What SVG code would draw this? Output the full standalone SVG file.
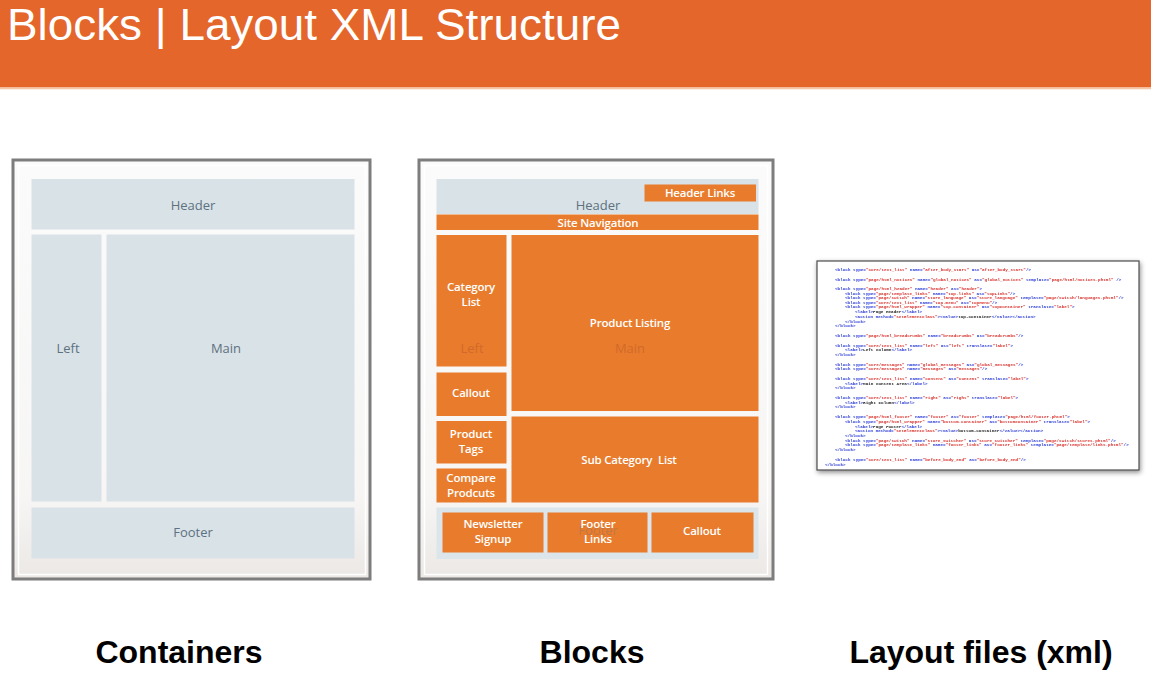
<svg xmlns="http://www.w3.org/2000/svg" width="1151" height="694" viewBox="0 0 1151 694">
<style>
.title{font-family:"Liberation Sans",Arial,sans-serif;font-size:45px;fill:#ffffff}
.cap{font-family:"Liberation Sans",Arial,sans-serif;font-size:32px;font-weight:bold;fill:#000;text-anchor:middle}
.frame{fill:url(#panelGrad);stroke:#7d7d7d;stroke-width:3}
.inner{fill:none;stroke:#ffffff;stroke-width:1.5}
.ct{fill:#d9e2e7}
.ctl{font-family:"Open Sans","Noto Sans",sans-serif;font-size:13px;fill:#5d7180;text-anchor:middle}
.ob{fill:#e87c2c}
.bl{font-family:"Open Sans","Noto Sans",sans-serif;font-size:11.5px;font-weight:600;fill:#ffffff;text-anchor:middle;letter-spacing:-0.2px}
.faint{font-family:"Open Sans","Noto Sans",sans-serif;font-size:13px;fill:#d2692a;text-anchor:middle}
.x{font-family:"Liberation Mono","Courier New",monospace;font-size:4.3px;font-weight:bold;fill:#2b3bd6}
.r{fill:#d8322e}
.k{fill:#222222}
</style>
<defs>
<linearGradient id="panelGrad" x1="0" y1="0" x2="0" y2="1">
<stop offset="0" stop-color="#fbfbfb"/>
<stop offset="0.8" stop-color="#f7f6f5"/>
<stop offset="1" stop-color="#ebe8e5"/>
</linearGradient>
<filter id="shadow" x="-5%" y="-5%" width="112%" height="115%">
<feGaussianBlur in="SourceAlpha" stdDeviation="2.5"/>
<feOffset dx="1" dy="2" result="b"/>
<feComponentTransfer><feFuncA type="linear" slope="0.45"/></feComponentTransfer>
<feMerge><feMergeNode/><feMergeNode in="SourceGraphic"/></feMerge>
</filter>
<filter id="soft"><feGaussianBlur stdDeviation="0.35"/></filter>
</defs>

<g id="title-bar">
<rect x="0" y="0" width="1151" height="87.5" fill="#e4662a"/>
<rect x="0" y="87.5" width="1151" height="1.8" fill="#f6c7a6"/>
<text class="title" x="7" y="40" textLength="614" lengthAdjust="spacingAndGlyphs">Blocks | Layout XML Structure</text>
</g>

<g id="containers-panel">
<rect class="frame" x="13" y="160" width="357" height="419"/>
<rect class="inner" x="18.5" y="165.5" width="347" height="409"/>
<g id="c-header"><rect class="ct" x="31.5" y="179" width="323" height="50.5"/><text class="ctl" x="193" y="209.5">Header</text></g>
<g id="c-left"><rect class="ct" x="31.5" y="234.5" width="70" height="267"/><text class="ctl" x="68" y="353">Left</text></g>
<g id="c-main"><rect class="ct" x="106.5" y="234.5" width="248" height="267"/><text class="ctl" x="226" y="353">Main</text></g>
<g id="c-footer"><rect class="ct" x="31.5" y="507.5" width="323" height="51"/><text class="ctl" x="193" y="537">Footer</text></g>
</g>

<g id="blocks-panel">
<rect class="frame" x="419" y="160" width="354" height="419"/>
<rect class="inner" x="424.5" y="165.5" width="343" height="409"/>
<g id="b-header"><rect class="ct" x="436.5" y="179" width="322" height="35"/><text class="ctl" x="598" y="209.5">Header</text></g>
<g id="b-header-links"><rect class="ob" x="644.5" y="184.5" width="111.5" height="17"/><text class="bl" x="700" y="197">Header Links</text></g>
<g id="b-site-nav"><rect class="ob" x="436.5" y="214.5" width="322" height="15.5"/><text class="bl" x="598" y="226.5">Site Navigation</text></g>
<g id="b-category-list"><rect class="ob" x="436.5" y="235" width="70" height="131.5"/><text class="bl" x="471" y="291">Category</text><text class="bl" x="471" y="305.5">List</text><text class="faint" x="472" y="353">Left</text></g>
<g id="b-product-listing"><rect class="ob" x="511.5" y="235" width="247" height="176"/><text class="bl" x="630" y="326.5">Product Listing</text><text class="faint" x="630" y="353">Main</text></g>
<g id="b-callout-left"><rect class="ob" x="436.5" y="372.5" width="70" height="43.5"/><text class="bl" x="471" y="397">Callout</text></g>
<g id="b-product-tags"><rect class="ob" x="436.5" y="421" width="70" height="42.5"/><text class="bl" x="471" y="437.5">Product</text><text class="bl" x="471" y="452.5">Tags</text></g>
<g id="b-compare"><rect class="ob" x="436.5" y="468.5" width="70" height="34"/><text class="bl" x="471" y="482">Compare</text><text class="bl" x="471" y="497">Prodcuts</text></g>
<g id="b-subcat"><rect class="ob" x="511.5" y="416.5" width="247" height="86"/><text class="bl" x="629" y="464" xml:space="preserve">Sub Category  List</text></g>
<g id="b-footer">
<rect x="436.5" y="507.5" width="322" height="51.5" fill="#dbe5ea"/>
</g>
<g id="b-newsletter"><rect class="ob" x="442.5" y="512.5" width="101" height="40"/><text class="bl" x="493" y="528">Newsletter</text><text class="bl" x="493" y="543">Signup</text></g>
<g id="b-footer-links"><rect class="ob" x="547.5" y="512.5" width="100" height="40"/><text class="ctl" x="598" y="535" fill-opacity="0.3">Footer</text><text class="bl" x="598" y="528">Footer</text><text class="bl" x="598" y="543">Links</text></g>
<g id="b-callout-footer"><rect class="ob" x="651.5" y="512.5" width="102" height="40"/><text class="bl" x="702" y="535">Callout</text></g>
</g>

<g id="xml-file">
<rect x="817" y="261" width="322" height="209" fill="#ffffff" stroke="#4d4d4d" stroke-width="1.2" filter="url(#shadow)"/>
<g filter="url(#soft)">
<text class="x" x="835" y="270.5">&lt;block type=<tspan class="r">"core/text_list"</tspan> name=<tspan class="r">"after_body_start"</tspan> as=<tspan class="r">"after_body_start"</tspan>/&gt;</text>
<text class="x" x="835" y="280.5">&lt;block type=<tspan class="r">"page/html_notices"</tspan> name=<tspan class="r">"global_notices"</tspan> as=<tspan class="r">"global_notices"</tspan> template=<tspan class="r">"page/html/notices.phtml"</tspan> /&gt;</text>
<text class="x" x="835" y="290">&lt;block type=<tspan class="r">"page/html_header"</tspan> name=<tspan class="r">"header"</tspan> as=<tspan class="r">"header"</tspan>&gt;</text>
<text class="x" x="845" y="294.5">&lt;block type=<tspan class="r">"page/template_links"</tspan> name=<tspan class="r">"top.links"</tspan> as=<tspan class="r">"topLinks"</tspan>/&gt;</text>
<text class="x" x="845" y="299">&lt;block type=<tspan class="r">"page/switch"</tspan> name=<tspan class="r">"store_language"</tspan> as=<tspan class="r">"store_language"</tspan> template=<tspan class="r">"page/switch/languages.phtml"</tspan>/&gt;</text>
<text class="x" x="845" y="303.5">&lt;block type=<tspan class="r">"core/text_list"</tspan> name=<tspan class="r">"top.menu"</tspan> as=<tspan class="r">"topMenu"</tspan>/&gt;</text>
<text class="x" x="845" y="308.2">&lt;block type=<tspan class="r">"page/html_wrapper"</tspan> name=<tspan class="r">"top.container"</tspan> as=<tspan class="r">"topContainer"</tspan> translate=<tspan class="r">"label"</tspan>&gt;</text>
<text class="x" x="855" y="313">&lt;label&gt;<tspan class="k">Page Header</tspan>&lt;/label&gt;</text>
<text class="x" x="855" y="317.7">&lt;action method=<tspan class="r">"setElementClass"</tspan>&gt;&lt;value&gt;<tspan class="k">top-container</tspan>&lt;/value&gt;&lt;/action&gt;</text>
<text class="x" x="845" y="322.5">&lt;/block&gt;</text>
<text class="x" x="835" y="327.2">&lt;/block&gt;</text>
<text class="x" x="835" y="337.2">&lt;block type=<tspan class="r">"page/html_breadcrumbs"</tspan> name=<tspan class="r">"breadcrumbs"</tspan> as=<tspan class="r">"breadcrumbs"</tspan>/&gt;</text>
<text class="x" x="835" y="346.5">&lt;block type=<tspan class="r">"core/text_list"</tspan> name=<tspan class="r">"left"</tspan> as=<tspan class="r">"left"</tspan> translate=<tspan class="r">"label"</tspan>&gt;</text>
<text class="x" x="845" y="351.2">&lt;label&gt;<tspan class="k">Left Column</tspan>&lt;/label&gt;</text>
<text class="x" x="835" y="355.8">&lt;/block&gt;</text>
<text class="x" x="835" y="365.5">&lt;block type=<tspan class="r">"core/messages"</tspan> name=<tspan class="r">"global_messages"</tspan> as=<tspan class="r">"global_messages"</tspan>/&gt;</text>
<text class="x" x="835" y="370.2">&lt;block type=<tspan class="r">"core/messages"</tspan> name=<tspan class="r">"messages"</tspan> as=<tspan class="r">"messages"</tspan>/&gt;</text>
<text class="x" x="835" y="379.8">&lt;block type=<tspan class="r">"core/text_list"</tspan> name=<tspan class="r">"content"</tspan> as=<tspan class="r">"content"</tspan> translate=<tspan class="r">"label"</tspan>&gt;</text>
<text class="x" x="845" y="384.5">&lt;label&gt;<tspan class="k">Main Content Area</tspan>&lt;/label&gt;</text>
<text class="x" x="835" y="389.2">&lt;/block&gt;</text>
<text class="x" x="835" y="398.8">&lt;block type=<tspan class="r">"core/text_list"</tspan> name=<tspan class="r">"right"</tspan> as=<tspan class="r">"right"</tspan> translate=<tspan class="r">"label"</tspan>&gt;</text>
<text class="x" x="845" y="403.5">&lt;label&gt;<tspan class="k">Right Column</tspan>&lt;/label&gt;</text>
<text class="x" x="835" y="408.2">&lt;/block&gt;</text>
<text class="x" x="835" y="417.8">&lt;block type=<tspan class="r">"page/html_footer"</tspan> name=<tspan class="r">"footer"</tspan> as=<tspan class="r">"footer"</tspan> template=<tspan class="r">"page/html/footer.phtml"</tspan>&gt;</text>
<text class="x" x="845" y="422.5">&lt;block type=<tspan class="r">"page/html_wrapper"</tspan> name=<tspan class="r">"bottom.container"</tspan> as=<tspan class="r">"bottomContainer"</tspan> translate=<tspan class="r">"label"</tspan>&gt;</text>
<text class="x" x="855" y="427.5">&lt;label&gt;<tspan class="k">Page Footer</tspan>&lt;/label&gt;</text>
<text class="x" x="855" y="432.2">&lt;action method=<tspan class="r">"setElementClass"</tspan>&gt;&lt;value&gt;<tspan class="k">bottom-container</tspan>&lt;/value&gt;&lt;/action&gt;</text>
<text class="x" x="845" y="436.8">&lt;/block&gt;</text>
<text class="x" x="845" y="441.5">&lt;block type=<tspan class="r">"page/switch"</tspan> name=<tspan class="r">"store_switcher"</tspan> as=<tspan class="r">"store_switcher"</tspan> template=<tspan class="r">"page/switch/stores.phtml"</tspan>/&gt;</text>
<text class="x" x="845" y="446.2">&lt;block type=<tspan class="r">"page/template_links"</tspan> name=<tspan class="r">"footer_links"</tspan> as=<tspan class="r">"footer_links"</tspan> template=<tspan class="r">"page/template/links.phtml"</tspan>/&gt;</text>
<text class="x" x="835" y="450.8">&lt;/block&gt;</text>
<text class="x" x="835" y="460.5">&lt;block type=<tspan class="r">"core/text_list"</tspan> name=<tspan class="r">"before_body_end"</tspan> as=<tspan class="r">"before_body_end"</tspan>/&gt;</text>
<text class="x" x="825" y="465.5">&lt;/block&gt;</text>
</g>
</g>

<g id="captions">
<text class="cap" x="179" y="663">Containers</text>
<text class="cap" x="592" y="663">Blocks</text>
<text class="cap" x="981" y="663">Layout files (xml)</text>
</g>
</svg>
